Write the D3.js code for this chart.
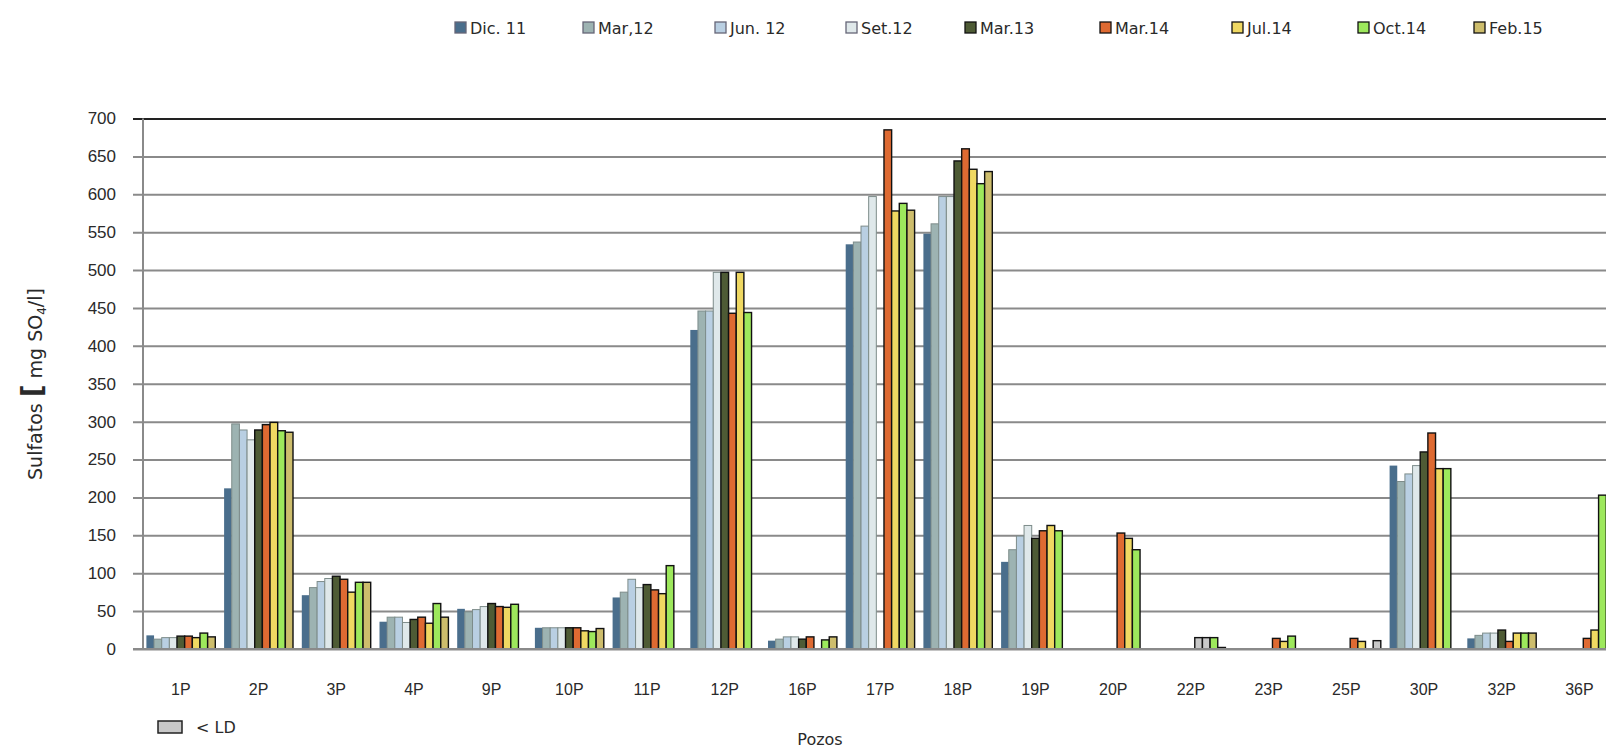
<!DOCTYPE html>
<html>
<head>
<meta charset="utf-8">
<script src="https://cdn.jsdelivr.net/npm/d3@7/dist/d3.min.js"></script>
<style>
  html, body { margin: 0; padding: 0; background: #ffffff; }
  svg { display: block; font-family: "DejaVu Sans", Verdana, sans-serif; }
</style>
</head>
<body>
<svg id="chart" width="1606" height="750"></svg>
<script>
// ---------- DATA ----------
const categories = ["1P","2P","3P","4P","9P","10P","11P","12P","16P","17P","18P","19P","20P","22P","23P","25P","30P","32P","36P"];
const seriesNames = ["Dic. 11","Mar,12","Jun. 12","Set.12","Mar.13","Mar.14","Jul.14","Oct.14","Feb.15"];

// values per series, in category order (null = not measured)
const dic11  = [18, 212, 71, 36, 53, 28, 68, 421, 11, 534, 548, 115, null, null, null, null, 242, 14, null];
const mar12  = [13, 297, 81, 42, 49, 28, 75, 446, 13, 537, 561, 131, null, null, null, null, 221, 18, null];
const jun12  = [15, 289, 89, 42, 52, 28, 92, 446, 16, 558, 597, 149, null, null, null, null, 231, 21, null];
const set12  = [15, 276, 93, 35, 56, 28, 81, 497, 16, 597, 597, 163, null, null, null, null, 242, 21, null];
const mar13  = [17, 289, 96, 39, 60, 28, 85, 497, 13, null, 644, 146, null, null, null, null, 260, 25, null];
const mar14  = [17, 296, 92, 42, 56, 28, 78, 443, 16, 685, 660, 156, 153, 15, 14, 14, 285, 10, 14];
const jul14  = [15, 299, 75, 34, 55, 24, 73, 497, null, 578, 633, 163, 146, 15, 10, 10, 238, 21, 25];
const oct14  = [21, 288, 88, 60, 59, 23, 110, 444, 12, 588, 614, 156, 131, 15, 17, null, 238, 21, 203];
const feb15  = [16, 286, 88, 42, null, 27, null, null, 16, 579, 630, null, null, 2, null, 11, null, 21, null];

// values reported below the detection limit ("< LD"), as "category|series"
const belowLD = ["22P|Mar.14", "22P|Jul.14", "25P|Feb.15"];

const yTicks = [0,50,100,150,200,250,300,350,400,450,500,550,600,650,700];

// ---------- STYLE ----------
const seriesValues = [dic11, mar12, jun12, set12, mar13, mar14, jul14, oct14, feb15];
const fills   = ["#4a6e8c","#9db3b2","#b9cfe2","#dfe8ea","#4e5b35","#de6a32","#efd862","#9de85c","#cdbd6c"];
const strokes = ["none","#7d8c8a","#7d8c8a","#7d8c8a","#111","#111","#111","#111","#111"];
const ldFill = "#c8c8c8";
const legendX = [455, 583, 715, 846, 965, 1100, 1232, 1358, 1474];
const textColor = "#2a2a2a";

const svg = d3.select("#chart");
const W = 1606;

const y = d3.scaleLinear().domain([0, 700]).range([649, 118.5]);
const bandW = 77.7;
const x0 = d3.scaleBand().domain(categories).range([142, 142 + bandW * categories.length]).paddingInner(0).paddingOuter(0);
const x1 = d3.scaleBand().domain(seriesNames).range([4.4, bandW - 4.4]).padding(0);

const axisX = 143;

svg.append("defs").append("clipPath").attr("id","clip")
  .append("rect").attr("x",0).attr("y",0).attr("width",W).attr("height",750);

const g = svg.append("g").attr("clip-path","url(#clip)");

// gridlines + y tick labels
const yAxis = d3.axisLeft(y).tickValues(yTicks).tickSize(-(W - axisX)).tickPadding(27).tickFormat(d3.format("d"));
const ya = g.append("g").attr("transform", `translate(${axisX},0)`).call(yAxis);
ya.select(".domain").remove();
ya.selectAll(".tick line").attr("stroke", "#8a8a8a").attr("stroke-width", 2).attr("x1", -10);
ya.selectAll(".tick").filter(d => d === 700).select("line").attr("stroke", "#222").attr("stroke-width", 2);
ya.selectAll(".tick text").attr("fill", textColor).attr("font-size", 17);

// vertical axis line
g.append("line").attr("x1", axisX).attr("x2", axisX).attr("y1", y(700)).attr("y2", y(0))
  .attr("stroke", "#8a8a8a").attr("stroke-width", 2);

// bars
const rows = [];
categories.forEach((c, ci) => {
  seriesNames.forEach((s, si) => {
    const v = seriesValues[si][ci];
    if (v !== null && v !== undefined) rows.push({c, s, si, v, ld: belowLD.includes(c + "|" + s)});
  });
});

g.append("g").selectAll("rect").data(rows).join("rect")
  .attr("x", d => x0(d.c) + x1(d.s))
  .attr("y", d => y(d.v))
  .attr("width", x1.bandwidth())
  .attr("height", d => y(0) - y(d.v))
  .attr("fill", d => d.ld ? ldFill : fills[d.si])
  .attr("stroke", d => d.ld ? "#111" : strokes[d.si])
  .attr("stroke-width", d => d.si >= 4 || d.ld ? 1.4 : 1);

// baseline
g.append("line").attr("x1", axisX - 10).attr("x2", W).attr("y1", y(0)).attr("y2", y(0))
  .attr("stroke", "#8a8a8a").attr("stroke-width", 2);

// x axis labels
const xAxis = d3.axisBottom(x0).tickSize(0).tickPadding(35);
const xa = g.append("g").attr("transform", `translate(0,${y(0)})`).call(xAxis);
xa.select(".domain").remove();
xa.selectAll(".tick text").attr("fill", textColor).attr("font-size", 16);

// axis titles
svg.append("text").attr("x", 820).attr("y", 745).attr("text-anchor", "middle")
  .attr("font-size", 16).attr("fill", textColor).text("Pozos");

const yt = svg.append("text").attr("transform", "translate(42,384) rotate(-90)")
  .attr("text-anchor", "middle").attr("font-size", 19).attr("fill", textColor);
yt.append("tspan").text("Sulfatos ");
yt.append("tspan").attr("font-weight", "bold").attr("font-size", 28).text("[");
yt.append("tspan").text(" mg SO");
yt.append("tspan").attr("font-size", 12).attr("dy", 4).text("4");
yt.append("tspan").attr("dy", -4).text("/l]");

// "< LD" key
svg.append("rect").attr("x", 158).attr("y", 721).attr("width", 24).attr("height", 12)
  .attr("fill", ldFill).attr("stroke", "#222").attr("stroke-width", 1.5);
svg.append("text").attr("x", 196).attr("y", 733).attr("font-size", 16).attr("fill", textColor).text("< LD");

// legend
const leg = svg.append("g").attr("transform", "translate(0,28)");
const items = leg.selectAll("g").data(seriesNames).join("g")
  .attr("transform", (d, i) => `translate(${legendX[i]},0)`);
items.append("rect").attr("y", -6).attr("width", 11).attr("height", 11)
  .attr("fill", (d, i) => fills[i]).attr("stroke", (d, i) => i >= 4 ? "#111" : "#667").attr("stroke-width", 1.3);
items.append("text").attr("x", 15).attr("y", 5.5).attr("font-size", 16).attr("fill", textColor).text(d => d);
</script>
</body>
</html>
